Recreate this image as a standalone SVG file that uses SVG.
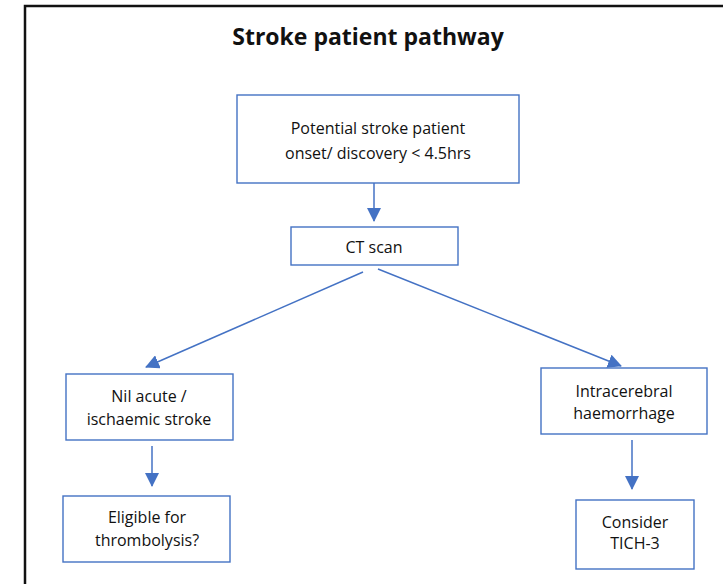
<svg xmlns="http://www.w3.org/2000/svg" width="723" height="584" viewBox="0 0 723 584">
<style>
.box{fill:#fff;stroke:#4472C4;stroke-width:1.4}
.t{font-family:"Open Sans","Liberation Sans",sans-serif;font-size:16px;fill:#111;text-anchor:middle}
.c{stroke:#4472C4;stroke-width:1.5;fill:none}
</style>
<defs>
<marker id="ah" viewBox="0 0 14 14" refX="13" refY="7" markerWidth="14" markerHeight="14" markerUnits="userSpaceOnUse" orient="auto">
<path d="M0,0 L14,7 L0,14 z" fill="#4472C4"/>
</marker>
</defs>
<rect x="0" y="0" width="723" height="584" fill="#fff"/>
<path d="M25,584 V6 H723" fill="none" stroke="#111" stroke-width="2.5"/>
<text x="368" y="45" font-family="Open Sans,Liberation Sans,sans-serif" font-size="23" font-weight="bold" text-anchor="middle" fill="#111">Stroke patient pathway</text>
<g id="connectors">
<line class="c" x1="374" y1="183" x2="374" y2="221" marker-end="url(#ah)"/>
<line class="c" x1="363" y1="272" x2="146" y2="367" marker-end="url(#ah)"/>
<line class="c" x1="378" y1="269" x2="621" y2="366" marker-end="url(#ah)"/>
<line class="c" x1="152" y1="446" x2="152" y2="486" marker-end="url(#ah)"/>
<line class="c" x1="632" y1="440" x2="632" y2="489" marker-end="url(#ah)"/>
</g>
<g id="n1"><rect class="box" x="237" y="95" width="282" height="88"/>
<text class="t" x="378" y="134">Potential stroke patient</text>
<text class="t" x="378" y="159">onset/ discovery &lt; 4.5hrs</text></g>
<g id="n2"><rect class="box" x="291" y="227" width="167" height="38"/>
<text class="t" x="374" y="253">CT scan</text></g>
<g id="n3"><rect class="box" x="66" y="374" width="167" height="66"/>
<text class="t" x="149" y="402">Nil acute /</text>
<text class="t" x="149" y="425">ischaemic stroke</text></g>
<g id="n4"><rect class="box" x="63" y="496" width="167" height="66"/>
<text class="t" x="147" y="523">Eligible for</text>
<text class="t" x="147" y="546">thrombolysis?</text></g>
<g id="n5"><rect class="box" x="541" y="368" width="166" height="66"/>
<text class="t" x="624" y="397">Intracerebral</text>
<text class="t" x="624" y="419">haemorrhage</text></g>
<g id="n6"><rect class="box" x="576" y="500" width="118" height="69"/>
<text class="t" x="635" y="528">Consider</text>
<text class="t" x="635" y="549">TICH-3</text></g>
</svg>
